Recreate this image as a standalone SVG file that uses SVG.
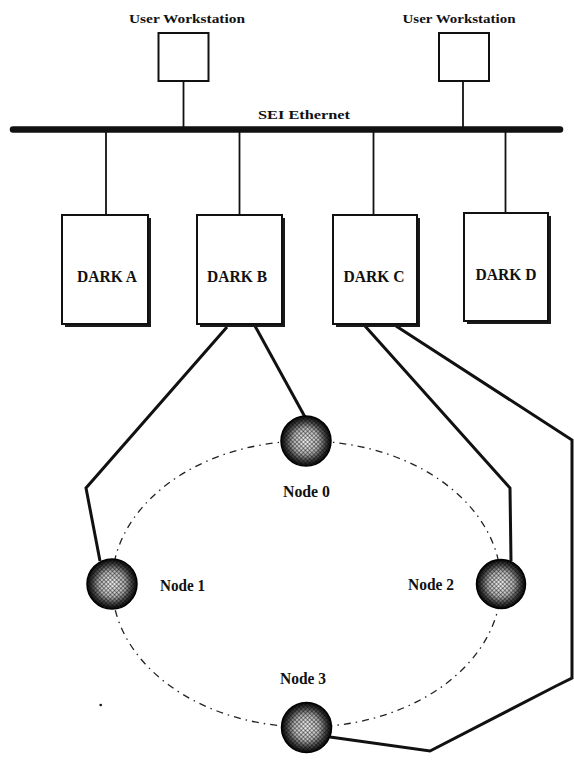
<svg xmlns="http://www.w3.org/2000/svg" width="574" height="762" viewBox="0 0 574 762">
<style>
  .lbl { font-family: "Liberation Serif", "Times New Roman", serif; font-weight: bold; fill: #111; }
  .box { fill: #fff; stroke: #111; stroke-width: 2; }
  .shadow { fill: #1a1a1a; }
  .thin { stroke: #111; stroke-width: 1.8; fill: none; }
  .wire { stroke: #111; stroke-width: 3; fill: none; stroke-linejoin: miter; }
  .ring { fill: none; stroke: #222; stroke-width: 1.3; stroke-dasharray: 7 5 1.5 5; }
  .ball { fill: url(#ballGrad); stroke: #000; stroke-width: 1.5; }
  .hatch { fill: url(#hatch); }
</style>
<defs>
  <radialGradient id="ballGrad" cx="50%" cy="50%" r="50%">
    <stop offset="0%" stop-color="#f2f2f2"/>
    <stop offset="50%" stop-color="#b8b8b8"/>
    <stop offset="78%" stop-color="#4a4a4a"/>
    <stop offset="100%" stop-color="#050505"/>
  </radialGradient>
  <pattern id="hatch" width="3" height="3" patternUnits="userSpaceOnUse" patternTransform="rotate(45)">
    <rect x="0" y="0" width="1" height="3" fill="#000" fill-opacity="0.4"/>
    <rect x="0" y="0" width="3" height="1" fill="#000" fill-opacity="0.4"/>
  </pattern>
</defs>
<rect width="574" height="762" fill="#fff"/>

<g id="connectors">
  <line class="thin" x1="183.5" y1="81" x2="183.5" y2="128"/>
  <line class="thin" x1="463" y1="81" x2="463" y2="128"/>
  <line class="thin" x1="106" y1="131" x2="106" y2="215"/>
  <line class="thin" x1="239.5" y1="131" x2="239.5" y2="215"/>
  <line class="thin" x1="373.5" y1="131" x2="373.5" y2="215"/>
  <line class="thin" x1="505.5" y1="131" x2="505.5" y2="213"/>
  <polyline class="wire" points="227,327 86,488 100,561"/>
  <polyline class="wire" points="255,326 305,417"/>
  <polyline class="wire" points="365,326 510,488 511,561"/>
  <polyline class="wire" points="396,326 572,440 572,678 556,686 430,751 330,737"/>
</g>

<g id="ethernet">
  <line x1="13" y1="129.5" x2="560" y2="129.5" stroke="#111" stroke-width="6.5" stroke-linecap="round"/>
  <text class="lbl" x="304" y="119" font-size="13.5" text-anchor="middle" textLength="92" lengthAdjust="spacingAndGlyphs">SEI  Ethernet</text>
</g>

<g id="ws1">
  <rect class="box" x="158.5" y="33" width="50" height="48"/>
  <text class="lbl" x="187" y="23" font-size="13.5" text-anchor="middle" textLength="116" lengthAdjust="spacingAndGlyphs">User Workstation</text>
</g>
<g id="ws2">
  <rect class="box" x="439" y="33" width="50" height="48"/>
  <text class="lbl" x="459" y="23" font-size="13.5" text-anchor="middle" textLength="113" lengthAdjust="spacingAndGlyphs">User Workstation</text>
</g>

<g id="darkA">
  <rect class="shadow" x="65" y="218" width="86" height="109"/>
  <rect class="box" x="62" y="215" width="86" height="109"/>
  <text class="lbl" x="107" y="282" font-size="16" text-anchor="middle" textLength="60" lengthAdjust="spacingAndGlyphs">DARK A</text>
</g>
<g id="darkB">
  <rect class="shadow" x="200" y="218" width="85" height="109"/>
  <rect class="box" x="197" y="215" width="85" height="109"/>
  <text class="lbl" x="237" y="282" font-size="16" text-anchor="middle" textLength="60" lengthAdjust="spacingAndGlyphs">DARK B</text>
</g>
<g id="darkC">
  <rect class="shadow" x="336" y="218" width="84" height="109"/>
  <rect class="box" x="333" y="215" width="84" height="109"/>
  <text class="lbl" x="374" y="282" font-size="16" text-anchor="middle" textLength="61" lengthAdjust="spacingAndGlyphs">DARK C</text>
</g>
<g id="darkD">
  <rect class="shadow" x="467" y="216" width="84" height="108"/>
  <rect class="box" x="464" y="213" width="84" height="108"/>
  <text class="lbl" x="506" y="280" font-size="16" text-anchor="middle" textLength="61" lengthAdjust="spacingAndGlyphs">DARK D</text>
</g>

<g id="ring">
  <ellipse class="ring" cx="306.5" cy="584" rx="194.5" ry="143"/>
</g>

<g id="node0">
  <circle class="ball" cx="306" cy="441" r="25"/>
  <circle class="hatch" cx="306" cy="441" r="24"/>
  <text class="lbl" x="306.5" y="497" font-size="16" text-anchor="middle" textLength="47" lengthAdjust="spacingAndGlyphs">Node 0</text>
</g>
<g id="node1">
  <circle class="ball" cx="112" cy="584" r="25"/>
  <circle class="hatch" cx="112" cy="584" r="24"/>
  <text class="lbl" x="182.5" y="591" font-size="16" text-anchor="middle" textLength="45" lengthAdjust="spacingAndGlyphs">Node 1</text>
</g>
<g id="node2">
  <circle class="ball" cx="501" cy="584" r="24.5"/>
  <circle class="hatch" cx="501" cy="584" r="23.5"/>
  <text class="lbl" x="431" y="590" font-size="16" text-anchor="middle" textLength="46" lengthAdjust="spacingAndGlyphs">Node 2</text>
</g>
<g id="node3">
  <circle class="ball" cx="306.5" cy="727.5" r="25"/>
  <circle class="hatch" cx="306.5" cy="727.5" r="24"/>
  <text class="lbl" x="303" y="684" font-size="16" text-anchor="middle" textLength="46" lengthAdjust="spacingAndGlyphs">Node 3</text>
</g>

<circle cx="100.7" cy="705" r="1.3" fill="#111"/>
</svg>
